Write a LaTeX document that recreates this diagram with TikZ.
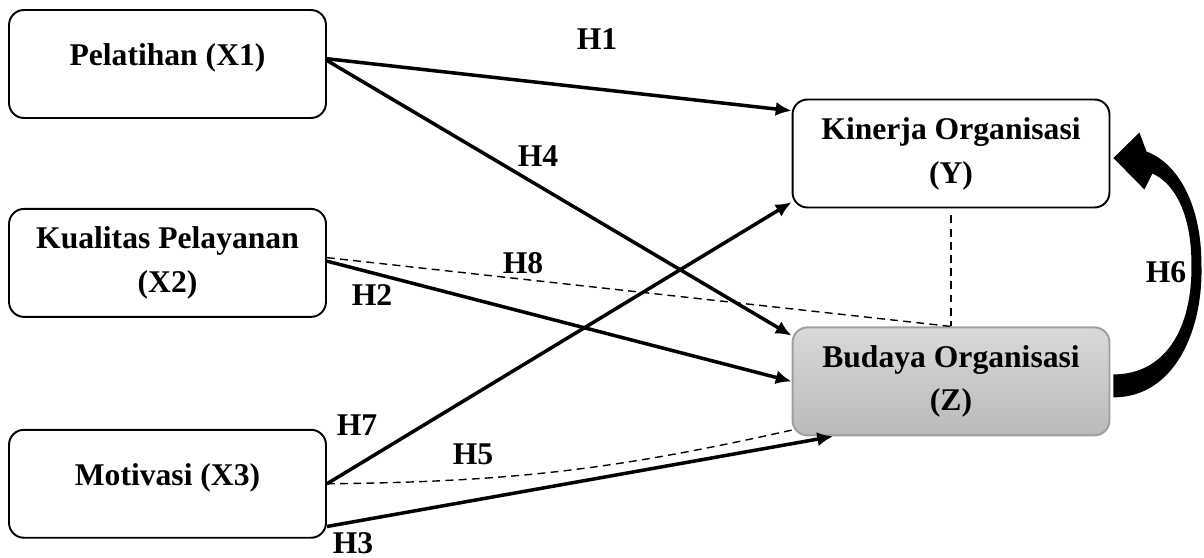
\documentclass[tikz,border=0pt]{standalone}
\usepackage{fontspec}
\setmainfont{Liberation Serif}
\usetikzlibrary{positioning,arrows.meta,calc}

\begin{document}
\begin{tikzpicture}[x=0.02cm,y=0.02cm,>={Latex[length=9pt,width=8pt]},node distance=2cm,
    var node/.style={draw,line width=1.1pt,rounded corners=0.3cm,minimum width=6.34cm,minimum height=2.16cm,align=center,inner sep=0pt,font=\bfseries\fontsize{18}{25}\selectfont},
    one line/.style={text height=12pt,text depth=10pt},
    med node/.style={var node,draw=black!38,top color=black!15,bottom color=black!27},
    hyp/.style={inner sep=0pt,font=\bfseries\fontsize{18}{25}\selectfont},
    direct/.style={->,line width=2pt},
    indirect/.style={line width=0.8pt,dash pattern=on 4.5pt off 3pt}]
    \useasboundingbox (0,0) rectangle (1204,558);

    % variables
    \node[var node,one line] (X1) at (167.5,494) {Pelatihan (X1)};
    \node[var node] (X2) [below=1.78cm of X1] {Kualitas Pelayanan\\(X2)};
    \node[var node,one line] (X3) [below=2.22cm of X2] {Motivasi (X3)};
    \node[var node] (Y) at (951,404.5) {Kinerja Organisasi\\(Y)};
    \node[med node] (Z) [below=2.36cm of Y] {Budaya Organisasi\\(Z)};

    % hypotheses
    \node[hyp] (h1) at (597,519) {H1};
    \node[hyp] (h4) at (538,402) {H4};
    \node[hyp] (h8) at (523,295) {H8};
    \node[hyp] (h2) at (372,263) {H2};
    \node[hyp] (h7) at (357,133) {H7};
    \node[hyp] (h5) at (473,104) {H5};
    \node[hyp] (h3) at (353,15) {H3};
    \node[hyp] (h6) at (1166,286) {H6};

    \path[direct]
        ([yshift=3pt]X1.east) edge (Y.165)
        ([yshift=2pt]X1.east) edge (Z.164)
        ([yshift=1pt]X2.east) edge (Z.west)
        (X3.east) edge (Y.197)
        (X3.-15) edge (Z.205)
        ;
    \path[indirect]
        ([yshift=3pt]X2.east) edge (Z.north)
        (Y.south) edge[shorten <=4pt] (Z.north)
        (X3.east) edge[bend right=6] (Z.197)
        ;

    % H6: Z -> Y
    \coordinate (h6a) at (Z.east);
    \coordinate (h6b) at (Y.east);
    \fill ($(h6a)+(3,-16)$) .. controls ($(h6a)+(64,-16)$) and ($(h6a)+(93,51)$) .. ($(h6a)+(91,117)$)
        .. controls ($(h6b)+(91,-52)$) and ($(h6b)+(68,-10)$) .. ($(h6b)+(36,2)$)
        -- ($(h6b)+(29,21)$) -- ($(h6b)+(3,-4.5)$) -- ($(h6b)+(34,-36)$) -- ($(h6b)+(42,-20)$)
        .. controls ($(h6b)+(64,-30)$) and ($(h6b)+(81,-60)$) .. ($(h6a)+(81,117)$)
        .. controls ($(h6a)+(82,53)$) and ($(h6a)+(55,7)$) .. ($(h6a)+(3,7)$) -- cycle;
\end{tikzpicture}
\end{document}
